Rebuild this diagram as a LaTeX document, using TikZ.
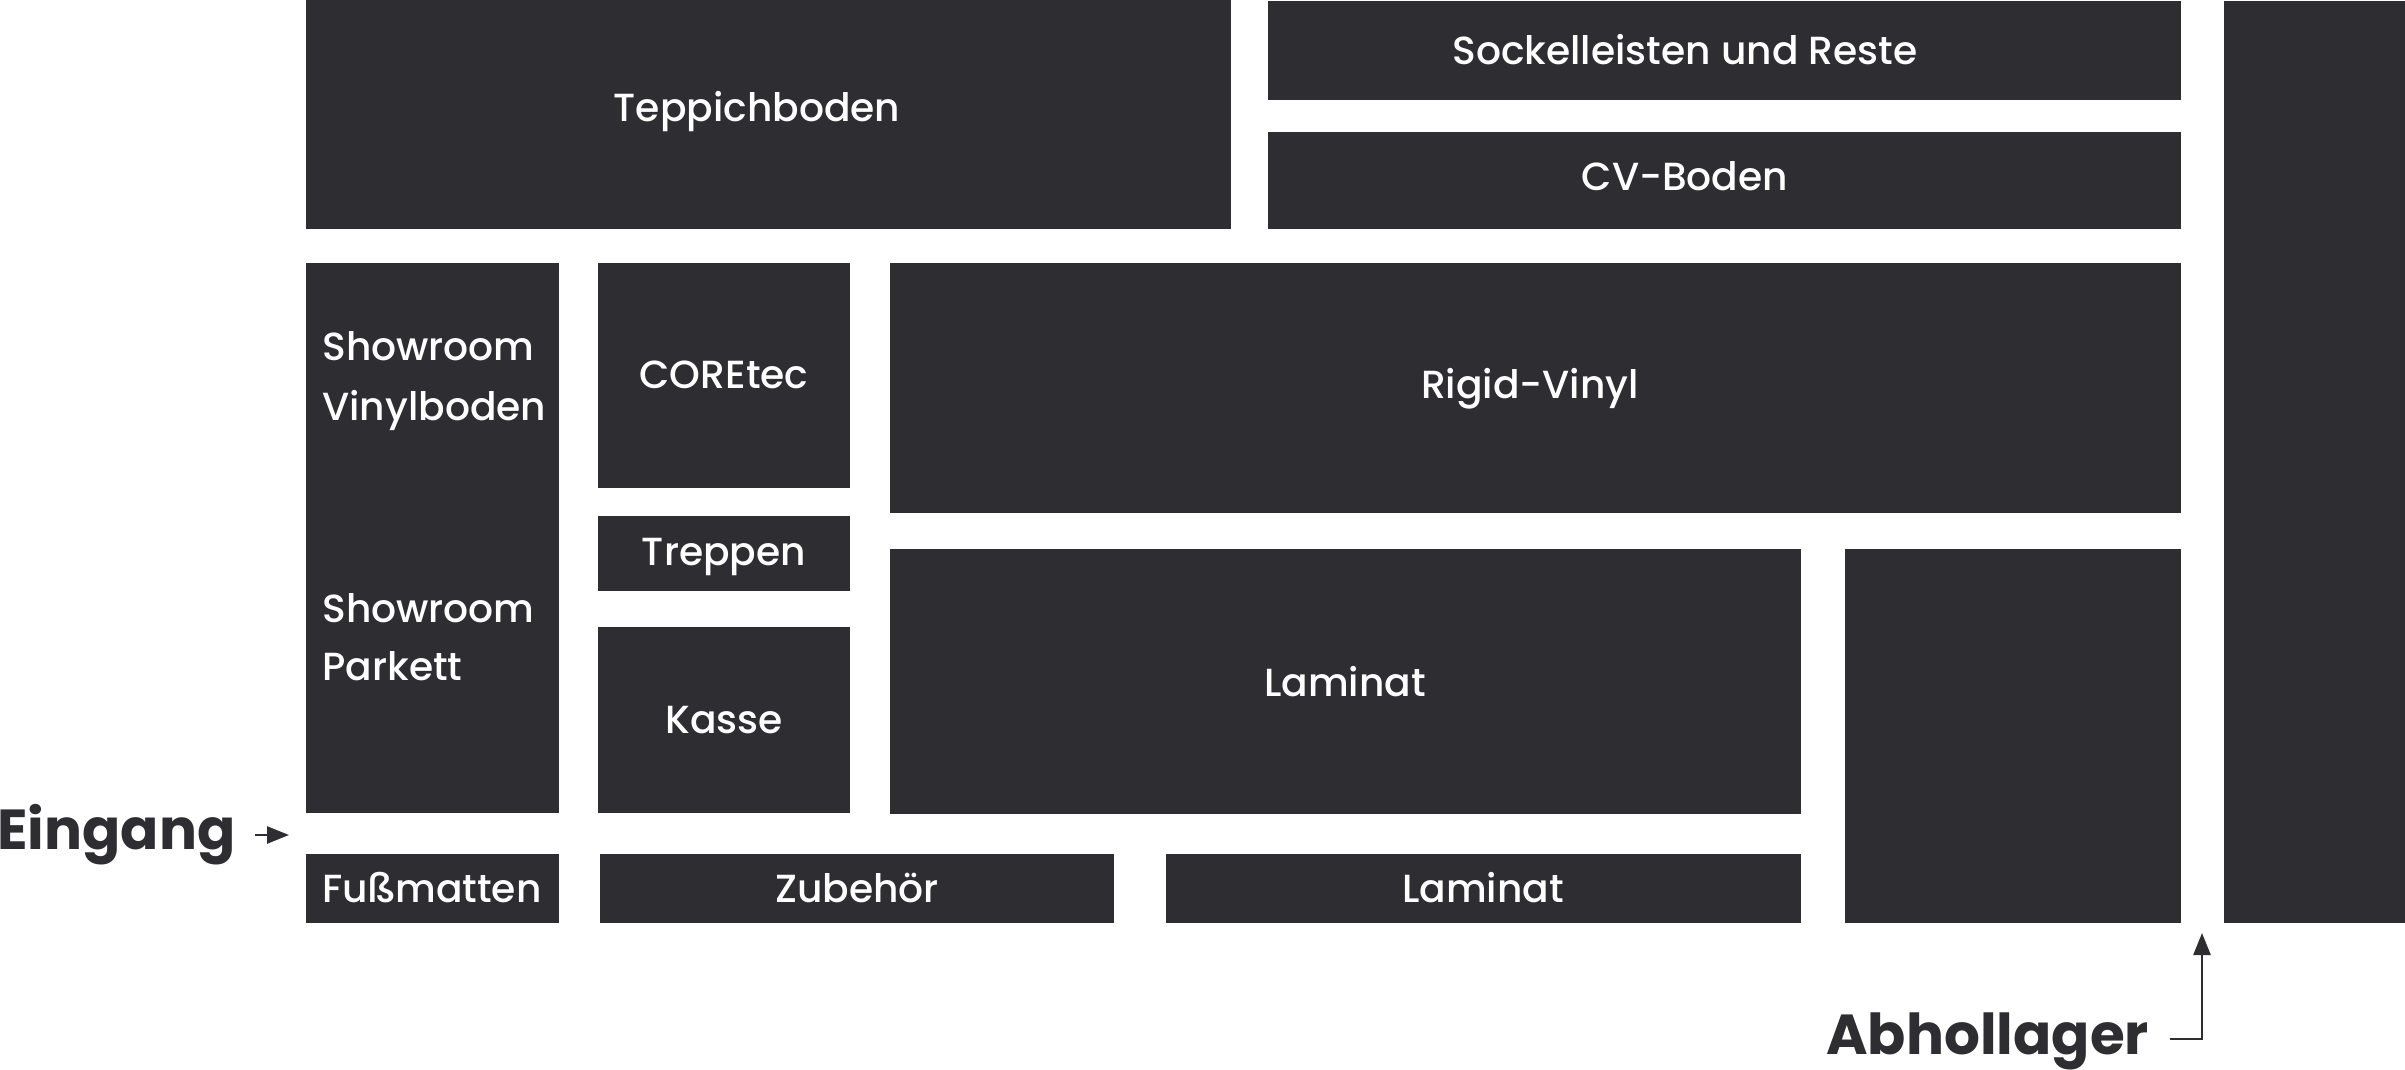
\documentclass[tikz,border=0pt]{standalone}
\usepackage{fontspec}
\setmainfont{Poppins}
\newfontfamily\popmed{Poppins Medium}
\usetikzlibrary{fit,arrows.meta}
\definecolor{dark}{RGB}{46,45,50}
\begin{document}
\begin{tikzpicture}[x=0.5pt,y=-0.5pt,
  room/.style={fill=dark,draw=none,inner sep=0pt,outer sep=0pt},
  lbl/.style={text=white,inner sep=0pt,font=\popmed\fontsize{19.6pt}{23pt}\selectfont},
  big/.style={text=dark,inner sep=0pt,font=\fontsize{28.2pt}{32pt}\selectfont\bfseries},
  arr/.style={draw=dark,line width=1.3pt,-{Triangle[length=11pt,width=8.5pt]}}]
\useasboundingbox (0,0) rectangle (2405,1070);
% rooms
\node[room,fit={(306,0)(1231,229)}] (tep) {};
\node[room,fit={(1268,1)(2181,100)}] (sock) {};
\node[room,fit={(1268,132)(2181,229)}] (cv) {};
\node[room,fit={(2224,1)(2405,923)}] (strip) {};
\node[room,fit={(306,263)(559,813)}] (show) {};
\node[room,fit={(598,263)(850,488)}] (core) {};
\node[room,fit={(598,516)(850,591)}] (trep) {};
\node[room,fit={(598,627)(850,813)}] (kasse) {};
\node[room,fit={(890,263)(2181,513)}] (rigid) {};
\node[room,fit={(890,549)(1801,814)}] (lam) {};
\node[room,fit={(1845,549)(2181,923)}] (rblock) {};
\node[room,fit={(306,854)(559,923)}] (fuss) {};
\node[room,fit={(600,854)(1114,923)}] (zub) {};
\node[room,fit={(1166,854)(1801,923)}] (lam2) {};
% labels
\node[lbl,anchor=base] (tepT) at (757,122) {Teppichboden};
\node[lbl,anchor=base] (sockT) at (1685,65) {Sockelleisten und Reste};
\node[lbl,anchor=base] (cvT) at (1685,191) {CV-Boden};
\node[lbl,anchor=base west] (showT1) at (322,360) {Showroom};
\node[lbl,anchor=base west] (showT2) at (322,420) {Vinylboden};
\node[lbl,anchor=base west] (showT3) at (322,622) {Showroom};
\node[lbl,anchor=base west] (showT4) at (322,680) {Parkett};
\node[lbl,anchor=base] (coreT) at (724,388) {COREtec};
\node[lbl,anchor=base] (trepT) at (724,565) {Treppen};
\node[lbl,anchor=base] (kasseT) at (724,733) {Kasse};
\node[lbl,anchor=base] (rigidT) at (1530,398) {Rigid-Vinyl};
\node[lbl,anchor=base] (lamT) at (1345,696) {Laminat};
\node[lbl,anchor=base] (fussT) at (432,902) {Fußmatten};
\node[lbl,anchor=base] (zubT) at (857,902) {Zubehör};
\node[lbl,anchor=base] (lam2T) at (1483,902) {Laminat};
% entrance / pickup
\node[big,anchor=base west] (eing) at (-3,849) {Eingang};
\node[big,anchor=base west] (abh) at (1826,1054) {Abhollager};
\coordinate (e1) at (255,835);
\coordinate (e2) at (289,835);
\draw[arr] (e1) -- (e2);
\coordinate (a1) at (2170,1039);
\coordinate (a2) at (2202,933);
\draw[arr] (a1) -| (a2);
\end{tikzpicture}
\end{document}
